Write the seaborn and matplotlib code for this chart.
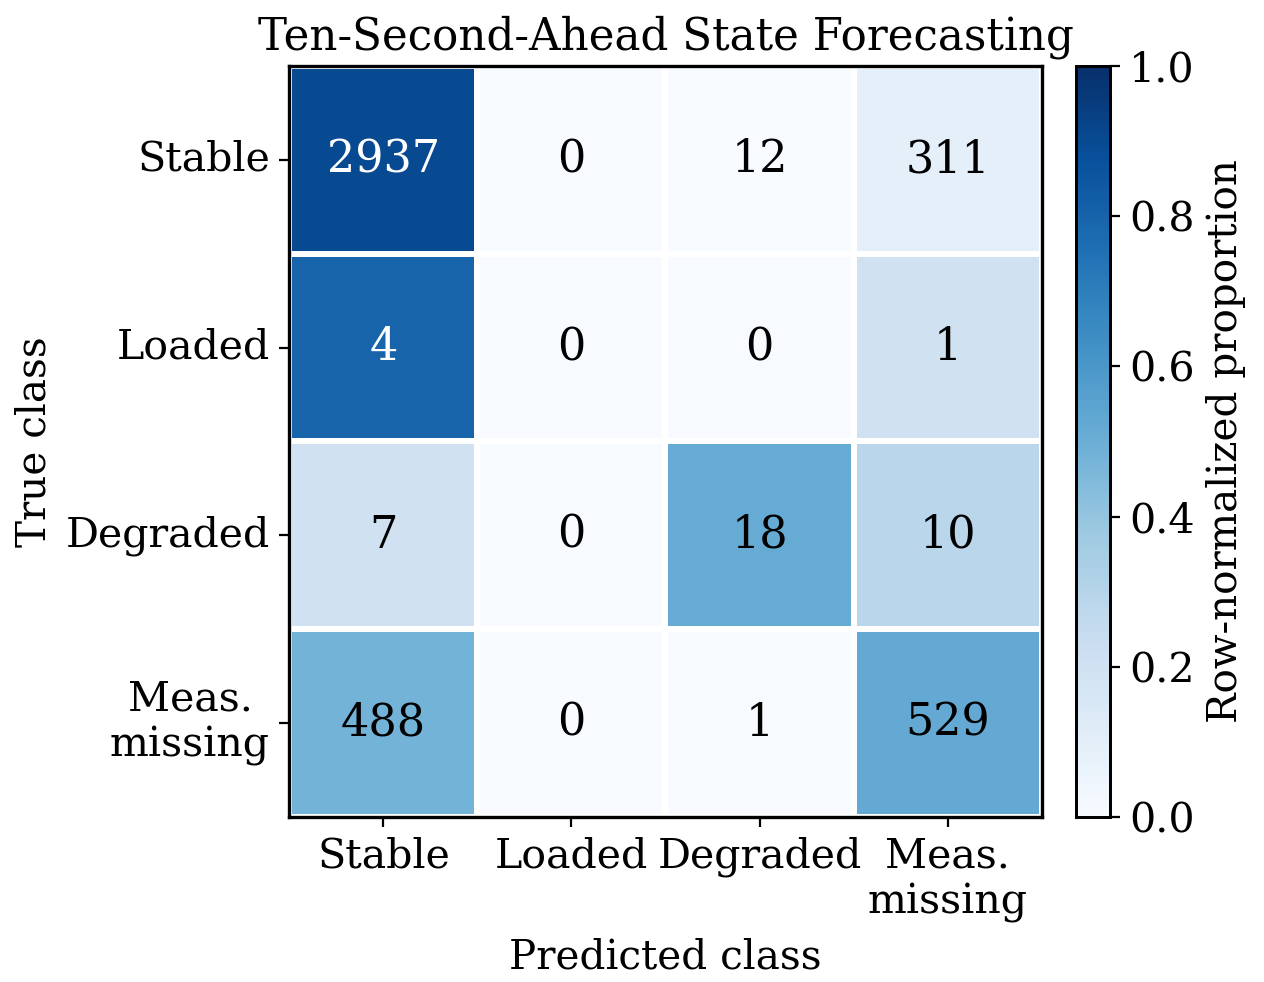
import numpy as np
import pandas as pd
import matplotlib
matplotlib.use("Agg")
import matplotlib.pyplot as plt
import seaborn as sns

classes = ["Stable", "Loaded", "Degraded", "Meas.\nmissing"]
row_stable = [2937, 0, 12, 311]
row_loaded = [4, 0, 0, 1]
row_degraded = [7, 0, 18, 10]
row_missing = [488, 0, 1, 529]

counts = np.array([row_stable, row_loaded, row_degraded, row_missing])
norm = counts / counts.sum(axis=1, keepdims=True)
df = pd.DataFrame(norm, index=classes, columns=classes)

plt.rcParams['font.family'] = ['DejaVu Serif']
plt.rcParams['text.color'] = 'black'
plt.rcParams['axes.labelcolor'] = 'black'
plt.rcParams['xtick.color'] = 'black'
plt.rcParams['ytick.color'] = 'black'

fig = plt.figure(figsize=(6.32, 4.91), dpi=200)
ax = fig.add_axes([0.229, 0.168, 0.595, 0.765])
cax = fig.add_axes([0.851, 0.168, 0.027, 0.765])

sns.heatmap(df, ax=ax, cbar_ax=cax, cmap="Blues", vmin=0, vmax=1,
            annot=False, linewidths=1.5, linecolor="white", square=False,
            cbar_kws={"label": "Row-normalized proportion"})

for i in range(4):
    for j in range(4):
        v = norm[i, j]
        ax.text(j + 0.5, i + 0.5, str(counts[i, j]), ha="center", va="center",
                fontsize=16, color="white" if v > 0.7 else "black")

for s in ax.spines.values():
    s.set_visible(True)
    s.set_color("black")
    s.set_linewidth(1.2)

ax.set_title("Ten-Second-Ahead State Forecasting", fontsize=15.7, pad=6)
ax.set_xlabel("Predicted class", fontsize=14.6, labelpad=5)
ax.set_ylabel("True class", fontsize=14.6)
ax.tick_params(axis="both", labelsize=14.8, length=3.5, width=0.8, pad=3.5,
               bottom=True, left=True, color="black")
ax.set_yticklabels(classes, rotation=0, ha="right", multialignment="center")
ax.set_xticklabels(classes, rotation=0, ha="center", multialignment="center")

cax.tick_params(labelsize=14.8, length=3.5, width=0.8, right=True, color="black")
cax.yaxis.label.set_size(14.6)
cax.set_yticks([0, 0.2, 0.4, 0.6, 0.8, 1.0])
cax.set_yticklabels(["0.0", "0.2", "0.4", "0.6", "0.8", "1.0"])
for s in cax.spines.values():
    s.set_visible(True)
    s.set_color("black")
    s.set_linewidth(1.0)

fig.savefig("out.png", dpi=200)
